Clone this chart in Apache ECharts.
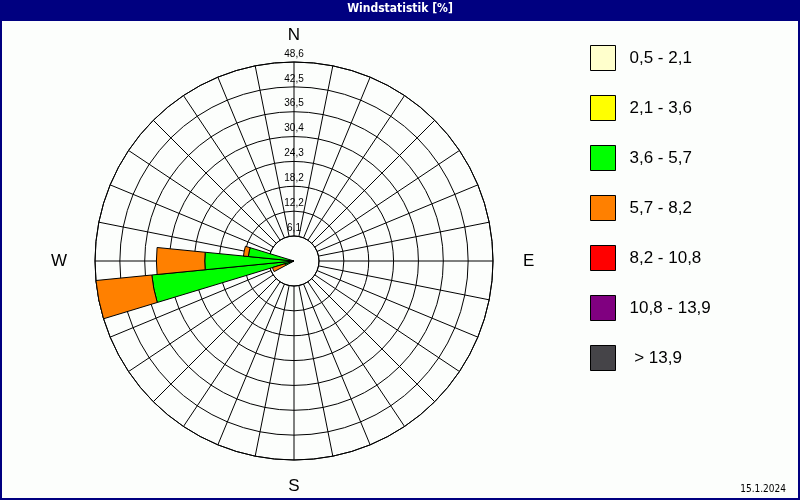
<!DOCTYPE html>
<html>
<head>
<meta charset="utf-8">
<script src="https://cdn.jsdelivr.net/npm/echarts@6/dist/echarts.min.js"></script>
<style>
html,body{margin:0;padding:0;background:#fcfefc;}
#chart{width:800px;height:500px;}
</style>
</head>
<body>
<div id="chart"></div>
<script>
// 32 compass directions (clockwise from North)
const directions = ['N','NzO','NNO','NOzN','NO','NOzO','ONO','OzN',
                    'O','OzS','OSO','SOzO','SO','SOzS','SSO','SzO',
                    'S','SzW','SSW','SWzS','SW','SWzW','WSW','WzS',
                    'W','WzN','WNW','NWzW','NW','NWzN','NNW','NzW'];
const classLabels = ['0,5 - 2,1','2,1 - 3,6','3,6 - 5,7','5,7 - 8,2','8,2 - 10,8','10,8 - 13,9',' > 13,9'];
const classColors = ['#FFFFCC','#FFFF00','#00FF00','#FF8000','#FF0000','#800080','#454448'];
// frequency [%] per direction and wind-speed class
const cls1 = [0,0,0,0,0,0,0,0, 0,0,0,0,0,0,0,0, 0,0,0,0,0,0,0,0, 0,0,0,0,0,0,0,0];
const cls2 = [0,0,0,0,0,0,0,0, 0,0,0,0,0,0,0,0, 0,0,0,0,0,0,0,0, 0,0,0,0,0,0,0,0];
const cls3 = [0,0,0,0,0,0,0,0, 0,0,0,0,0,0,0,0, 0,0,0,0,0,0,2.3,34.9, 21.8,11.2,0,0,0,0,0,0];
const cls4 = [0,0,0,0,0,0,0,0, 0,0,0,0,0,0,0,0, 0,0,0,0,0,0,3.2,13.7, 11.8,1.2,0,0,0,0,0,0];
const cls5 = [0,0,0,0,0,0,0,0, 0,0,0,0,0,0,0,0, 0,0,0,0,0,0,0,0, 0,0,0,0,0,0,0,0];
const cls6 = [0,0,0,0,0,0,0,0, 0,0,0,0,0,0,0,0, 0,0,0,0,0,0,0,0, 0,0,0,0,0,0,0,0];
const cls7 = [0,0,0,0,0,0,0,0, 0,0,0,0,0,0,0,0, 0,0,0,0,0,0,0,0, 0,0,0,0,0,0,0,0];
const radiusMax = 48.6;
const ringCount = 8;
const tickLabels = ['6,1','12,2','18,2','24,3','30,4','36,5','42,5','48,6'];
const compassLabels = {0:'{n|N}', 90:'{e|E}', 180:'{s|S}', 270:'{w|W}'};
const titleText = 'Windstatistik [%]';
const dateText = '15.1.2024';

const classData = [cls1, cls2, cls3, cls4, cls5, cls6, cls7];
const step = radiusMax / ringCount;
const sectorDeg = 360 / directions.length;
const center = [294, 261];
const labelFont = '"Liberation Sans", Arial, sans-serif';

const chart = echarts.init(document.getElementById('chart'));
chart.setOption({
  animation: false,
  backgroundColor: '#fcfefc',
  graphic: [
    {type:'rect', shape:{x:0,y:0,width:800,height:21}, style:{fill:'#000080'}, z:0},
    {type:'rect', shape:{x:1,y:1,width:798,height:498}, style:{fill:'none', stroke:'#000080', lineWidth:2}, z:0},
    {type:'text', x:400, y:9, z:1, style:{text:titleText, fill:'#fff', font:'bold 12px "Liberation Sans Narrow", "DejaVu Sans Condensed", sans-serif', align:'center', verticalAlign:'middle'}},
    {type:'text', x:786, y:489, z:1, style:{text:dateText, fill:'#000', font:'10px "Liberation Sans Narrow", "DejaVu Sans Condensed", sans-serif', align:'right', verticalAlign:'middle'}}
  ],
  legend: {
    orient: 'vertical', left: 590, top: 45, padding: 0,
    itemWidth: 25, itemHeight: 25, itemGap: 24,
    selectedMode: false,
    textStyle: {fontSize: 17, lineHeight: 25, color: '#000', fontFamily: labelFont, padding:[0,0,0,9]},
    data: classLabels.map(n => ({name:n, icon:'rect', itemStyle:{borderColor:'#000', borderWidth:1}}))
  },
  polar: [
    {center: center, radius: [25, 199]},
    {center: center, radius: [0, 199]}
  ],
  angleAxis: [
    {
      polarIndex: 0, type: 'value', min: 0, max: 360, interval: sectorDeg,
      startAngle: 90, clockwise: true,
      axisLine: {show: true, lineStyle: {color: '#000', width: 1}},
      axisTick: {show: false},
      splitLine: {show: true, lineStyle: {color: '#000', width: 1}},
      axisLabel: {
        show: true, margin: 18,
        formatter: v => (Math.round(v) !== 360 && compassLabels[Math.round(v)]) ? compassLabels[Math.round(v)] : '',
        rich: {
          n: {fontSize:17, color:'#000', fontFamily:labelFont},
          s: {fontSize:17, color:'#000', fontFamily:labelFont},
          e: {fontSize:17, color:'#000', fontFamily:labelFont, padding:[0,0,0,12]},
          w: {fontSize:17, color:'#000', fontFamily:labelFont, padding:[0,10,0,0]}
        }
      }
    },
    {
      polarIndex: 1, type: 'category', data: directions,
      startAngle: 90 + sectorDeg / 2, clockwise: true, boundaryGap: true,
      axisLine: {show: false}, axisTick: {show: false}, axisLabel: {show: false}, splitLine: {show: false}
    }
  ],
  radiusAxis: [
    {
      polarIndex: 0, type: 'value', min: step, max: radiusMax, interval: step,
      axisLine: {show: false}, axisTick: {show: false},
      splitLine: {show: true, lineStyle: {color: '#000', width: 1}},
      axisLabel: {
        show: true, margin: 0, align: 'center', verticalAlign: 'bottom', padding:[0,0,3,0],
        fontSize: 10, color: '#000', fontFamily: labelFont,
        formatter: (v, i) => tickLabels[i] !== undefined ? tickLabels[i] : ''
      }
    },
    {
      polarIndex: 1, type: 'value', min: 0, max: radiusMax,
      axisLine: {show: false}, axisTick: {show: false}, axisLabel: {show: false}, splitLine: {show: false}
    }
  ],
  series: classLabels.map((name, k) => ({
    name: name,
    type: 'bar',
    coordinateSystem: 'polar',
    polarIndex: 1,
    stack: 'wind',
    barCategoryGap: '0%',
    z: 5,
    emphasis: {disabled: true},
    itemStyle: {color: classColors[k], borderColor: '#000', borderWidth: 1},
    data: classData[k].map(v => v > 0 ? v : '-')
  }))
});
</script>
</body>
</html>
